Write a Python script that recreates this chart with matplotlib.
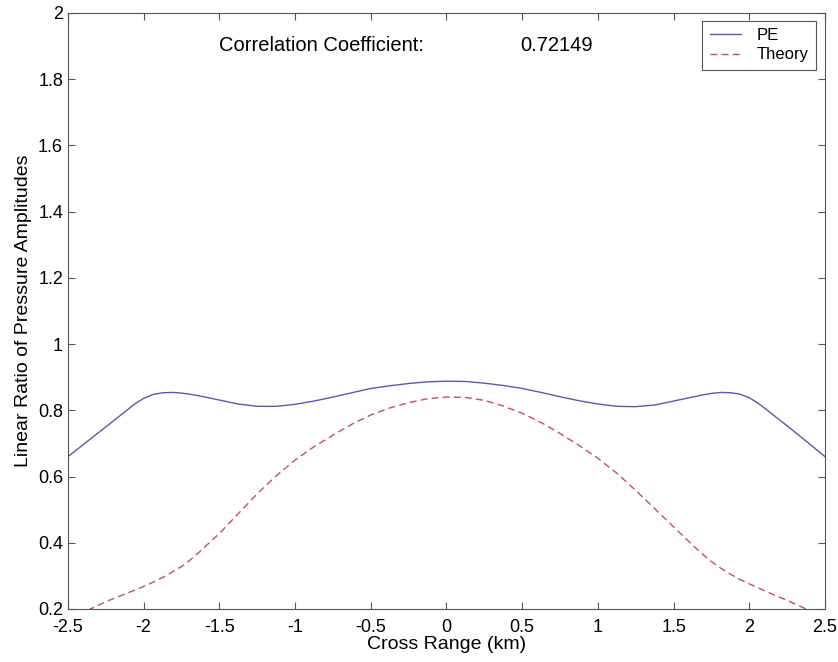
import matplotlib
matplotlib.use('Agg')
import matplotlib.pyplot as plt

# Cross range (km)
x_km = [-2.5, -2.375, -2.25, -2.125, -2.0625, -2.0, -1.9375, -1.875, -1.8125, -1.75,
        -1.6875, -1.625, -1.5, -1.375, -1.25, -1.125, -1.0, -0.875, -0.75, -0.625,
        -0.5, -0.375, -0.25, -0.125, 0.0, 0.125, 0.25, 0.375, 0.5, 0.625,
        0.75, 0.875, 1.0, 1.125, 1.25, 1.375, 1.5, 1.625, 1.6875, 1.75,
        1.8125, 1.875, 1.9375, 2.0, 2.0625, 2.125, 2.25, 2.375, 2.5]

# PE result
pe = [0.660, 0.705, 0.750, 0.795, 0.818, 0.836, 0.848, 0.853, 0.854, 0.852,
      0.848, 0.843, 0.831, 0.819, 0.812, 0.812, 0.818, 0.828, 0.840, 0.853,
      0.866, 0.874, 0.881, 0.886, 0.888, 0.887, 0.882, 0.875, 0.866, 0.854,
      0.841, 0.829, 0.819, 0.812, 0.811, 0.816, 0.828, 0.840, 0.846, 0.851,
      0.854, 0.853, 0.849, 0.838, 0.820, 0.798, 0.753, 0.707, 0.660]

# theory
theory = [0.165, 0.195, 0.222, 0.245, 0.256, 0.268, 0.281, 0.295, 0.311, 0.328,
          0.350, 0.375, 0.428, 0.488, 0.548, 0.602, 0.650, 0.690, 0.725, 0.758,
          0.786, 0.807, 0.823, 0.835, 0.840, 0.839, 0.830, 0.813, 0.791, 0.763,
          0.730, 0.694, 0.655, 0.610, 0.558, 0.503, 0.448, 0.393, 0.367, 0.343,
          0.323, 0.305, 0.289, 0.276, 0.263, 0.250, 0.226, 0.200, 0.172]

xticks = [-2.5, -2, -1.5, -1, -0.5, 0, 0.5, 1, 1.5, 2, 2.5]
xticklabels = ['-2.5', '-2', '-1.5', '-1', '-0.5', '0', '0.5', '1', '1.5', '2', '2.5']
yticks = [0.2, 0.4, 0.6, 0.8, 1.0, 1.2, 1.4, 1.6, 1.8, 2.0]
yticklabels = ['0.2', '0.4', '0.6', '0.8', '1', '1.2', '1.4', '1.6', '1.8', '2']

plt.rcParams['font.family'] = ['Liberation Sans', 'DejaVu Sans']

fig = plt.figure(figsize=(8.38, 6.62), dpi=100)
ax = fig.add_axes([0.0811, 0.0801, 0.9034, 0.9003])

ax.plot(x_km, pe, color='#5a5aa8', linewidth=1.0, label='PE')
ax.plot(x_km, theory, color='#c0506a', linewidth=1.0, linestyle=(0, (5, 3)), label='Theory')

ax.set_xlim(-2.5, 2.5)
ax.set_ylim(0.2, 2)
ax.set_xticks(xticks)
ax.set_xticklabels(xticklabels)
ax.set_yticks(yticks)
ax.set_yticklabels(yticklabels)
ax.tick_params(direction='in', top=True, right=True, length=5, labelsize=13, color='#555555')
ax.tick_params(axis='x', pad=7)
for s in ax.spines.values():
    s.set_color('#555555')

ax.set_xlabel('Cross Range (km)', fontsize=14, labelpad=0)
ax.set_ylabel('Linear Ratio of Pressure Amplitudes', fontsize=14, labelpad=4)

ax.text(-1.5, 1.903, 'Correlation Coefficient:', fontsize=14.5, va='center')
ax.text(0.486, 1.903, '0.72149', fontsize=14.5, va='center')

leg = ax.legend(loc='upper right', fontsize=12, fancybox=False, edgecolor='#555555',
                handlelength=1.9, handletextpad=0.9, borderpad=0.45, labelspacing=0.25,
                borderaxespad=0, framealpha=1, bbox_to_anchor=(0.988, 0.987))
leg.get_frame().set_linewidth(0.8)

plt.savefig('out.png', dpi=100)
